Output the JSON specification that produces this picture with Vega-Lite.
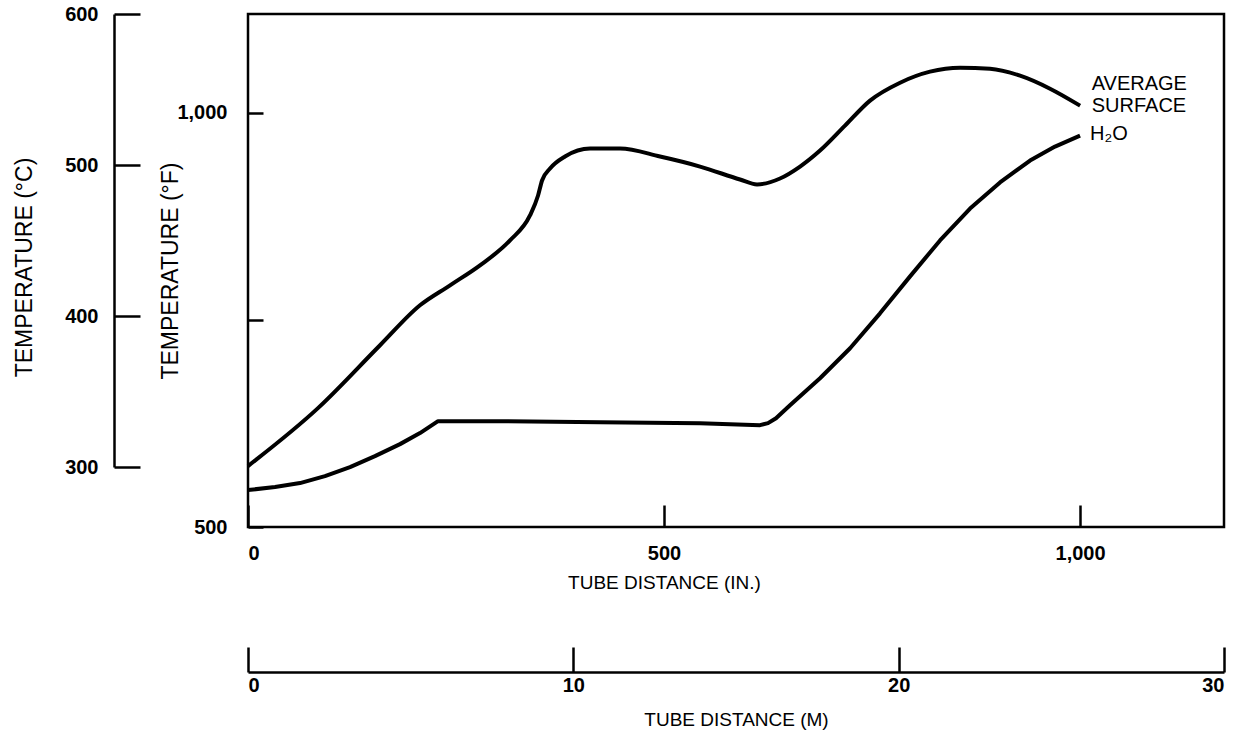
{
  "$schema": "https://vega.github.io/schema/vega-lite/v6.json",
  "width": 976,
  "height": 513,
  "autosize": "none",
  "padding": {"left": 248, "top": 14, "right": 18, "bottom": 211},
  "background": "white",
  "config": {
    "view": {"stroke": "black", "strokeWidth": 2.5},
    "font": "Liberation Sans",
    "axis": {
      "grid": false,
      "labelFont": "Liberation Sans",
      "labelFontSize": 20,
      "labelFontWeight": "bold",
      "labelColor": "black",
      "titleFont": "Liberation Sans",
      "titleFontSize": 19,
      "titleFontWeight": "normal",
      "titleColor": "black",
      "tickColor": "black",
      "domainColor": "black",
      "tickWidth": 2.5,
      "domainWidth": 2.5
    }
  },
  "datasets": {
    "axes2": [{"m": 0, "c": 300}, {"m": 30, "c": 600}],
    "curves": [
      {"series": "AVERAGE SURFACE", "inch": 0, "temp": 573.5},
      {"series": "AVERAGE SURFACE", "inch": 84.1, "temp": 643.4},
      {"series": "AVERAGE SURFACE", "inch": 158.7, "temp": 719.3},
      {"series": "AVERAGE SURFACE", "inch": 206.7, "temp": 767.5},
      {"series": "AVERAGE SURFACE", "inch": 242.8, "temp": 791.6},
      {"series": "AVERAGE SURFACE", "inch": 278.8, "temp": 815.7},
      {"series": "AVERAGE SURFACE", "inch": 314.9, "temp": 845.8},
      {"series": "AVERAGE SURFACE", "inch": 338.9, "temp": 875.9},
      {"series": "AVERAGE SURFACE", "inch": 348.6, "temp": 900.0},
      {"series": "AVERAGE SURFACE", "inch": 353.4, "temp": 918.1},
      {"series": "AVERAGE SURFACE", "inch": 363.0, "temp": 932.5},
      {"series": "AVERAGE SURFACE", "inch": 381.0, "temp": 947.0},
      {"series": "AVERAGE SURFACE", "inch": 411.1, "temp": 956.6},
      {"series": "AVERAGE SURFACE", "inch": 447.1, "temp": 956.6},
      {"series": "AVERAGE SURFACE", "inch": 495.2, "temp": 947.0},
      {"series": "AVERAGE SURFACE", "inch": 543.3, "temp": 934.9},
      {"series": "AVERAGE SURFACE", "inch": 591.3, "temp": 919.3},
      {"series": "AVERAGE SURFACE", "inch": 611.8, "temp": 913.3},
      {"series": "AVERAGE SURFACE", "inch": 639.4, "temp": 920.5},
      {"series": "AVERAGE SURFACE", "inch": 663.5, "temp": 934.9},
      {"series": "AVERAGE SURFACE", "inch": 687.5, "temp": 954.2},
      {"series": "AVERAGE SURFACE", "inch": 717.5, "temp": 984.3},
      {"series": "AVERAGE SURFACE", "inch": 747.6, "temp": 1014.5},
      {"series": "AVERAGE SURFACE", "inch": 783.7, "temp": 1036.1},
      {"series": "AVERAGE SURFACE", "inch": 819.7, "temp": 1049.4},
      {"series": "AVERAGE SURFACE", "inch": 855.8, "temp": 1054.2},
      {"series": "AVERAGE SURFACE", "inch": 891.8, "temp": 1053.0},
      {"series": "AVERAGE SURFACE", "inch": 927.9, "temp": 1044.6},
      {"series": "AVERAGE SURFACE", "inch": 963.9, "temp": 1028.9},
      {"series": "AVERAGE SURFACE", "inch": 1000, "temp": 1008.4}
    ],
    "water": [
      {"series": "H2O", "inch": 0, "temp": 544.6},
      {"series": "H2O", "inch": 32.5, "temp": 548.2},
      {"series": "H2O", "inch": 62.5, "temp": 553.0},
      {"series": "H2O", "inch": 92.5, "temp": 561.4},
      {"series": "H2O", "inch": 122.6, "temp": 572.3},
      {"series": "H2O", "inch": 152.6, "temp": 585.5},
      {"series": "H2O", "inch": 182.7, "temp": 600.0},
      {"series": "H2O", "inch": 206.7, "temp": 613.3},
      {"series": "H2O", "inch": 228.4, "temp": 627.7},
      {"series": "H2O", "inch": 302.9, "temp": 627.7},
      {"series": "H2O", "inch": 423.1, "temp": 626.5},
      {"series": "H2O", "inch": 543.3, "temp": 625.3},
      {"series": "H2O", "inch": 615.4, "temp": 622.9},
      {"series": "H2O", "inch": 625.0, "temp": 625.3},
      {"series": "H2O", "inch": 634.6, "temp": 631.3},
      {"series": "H2O", "inch": 651.4, "temp": 647.0},
      {"series": "H2O", "inch": 687.5, "temp": 679.5},
      {"series": "H2O", "inch": 723.6, "temp": 715.7},
      {"series": "H2O", "inch": 759.6, "temp": 757.8},
      {"series": "H2O", "inch": 795.7, "temp": 802.4},
      {"series": "H2O", "inch": 831.7, "temp": 845.8},
      {"series": "H2O", "inch": 867.8, "temp": 884.3},
      {"series": "H2O", "inch": 903.8, "temp": 915.7},
      {"series": "H2O", "inch": 939.9, "temp": 942.2},
      {"series": "H2O", "inch": 969.9, "temp": 959.0},
      {"series": "H2O", "inch": 1000, "temp": 972.3}
    ],
    "labels": [
      {"label": "AVERAGE", "inch": 1014, "temp": 1034},
      {"label": "SURFACE", "inch": 1014, "temp": 1008},
      {"label": "H₂O", "inch": 1012, "temp": 974}
    ]
  },
  "layer": [
    {
      "data": {"name": "axes2"},
      "mark": {"type": "point", "opacity": 0},
      "encoding": {
        "x": {
          "field": "m", "type": "quantitative",
          "scale": {"domain": [0, 30], "nice": false, "zero": false},
          "axis": {"orient": "bottom", "offset": 145, "values": [0, 10, 20, 30], "tickSize": -25, "labelPadding": 28, "title": "TUBE DISTANCE (M)", "titlePadding": 15}
        },
        "y": {
          "field": "c", "type": "quantitative",
          "scale": {"domain": [300, 600], "range": [453, 0], "nice": false, "zero": false},
          "axis": {"orient": "left", "offset": 134, "values": [300, 400, 500, 600], "tickSize": -26, "labelPadding": 42, "title": "TEMPERATURE (°C)", "titleFontSize": 23, "titlePadding": 28, "titleY": 253}
        }
      }
    },
    {
      "layer": [
        {
          "data": {"name": "curves"},
          "mark": {"type": "line", "interpolate": "monotone", "strokeWidth": 4, "color": "black"},
          "encoding": {
            "x": {
              "field": "inch", "type": "quantitative",
              "scale": {"domain": [0, 1173], "nice": false, "zero": false},
              "axis": {"orient": "bottom", "values": [0, 500, 1000], "labelExpr": "format(datum.value, ',')", "tickSize": -22, "labelPadding": 38, "domain": false, "title": "TUBE DISTANCE (IN.)", "titleX": 416, "titlePadding": 10}
            },
            "y": {
              "field": "temp", "type": "quantitative",
              "scale": {"domain": [500, 1119], "nice": false, "zero": false},
              "axis": {"orient": "left", "values": [500, 750, 1000], "labelExpr": "datum.value == 750 ? '' : format(datum.value, ',')", "tickSize": -15, "labelPadding": 36, "domain": false, "title": "TEMPERATURE (°F)", "titleFontSize": 23, "titlePadding": -6}
            },
            "detail": {"field": "series"}
          }
        },
        {
          "data": {"name": "water"},
          "mark": {"type": "line", "interpolate": "linear", "strokeWidth": 4, "color": "black", "strokeJoin": "round"},
          "encoding": {
            "x": {"field": "inch", "type": "quantitative"},
            "y": {"field": "temp", "type": "quantitative"},
            "detail": {"field": "series"}
          }
        },
        {
          "data": {"name": "labels"},
          "mark": {"type": "text", "align": "left", "baseline": "middle", "fontSize": 20, "font": "Liberation Sans", "color": "black"},
          "encoding": {
            "x": {"field": "inch", "type": "quantitative"},
            "y": {"field": "temp", "type": "quantitative"},
            "text": {"field": "label"}
          }
        }
      ]
    }
  ],
  "resolve": {"scale": {"x": "independent", "y": "independent"}}
}
